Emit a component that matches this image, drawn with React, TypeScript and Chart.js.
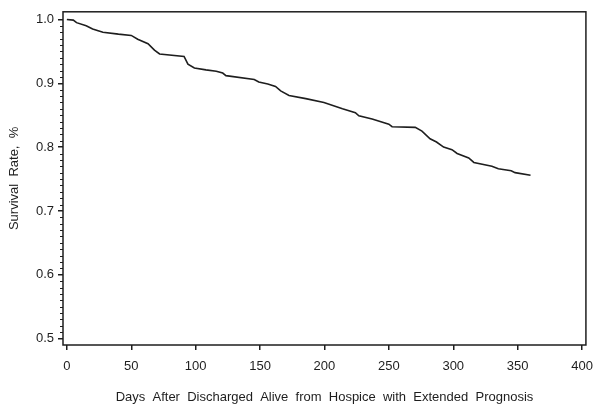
import React, { useEffect, useRef } from "react";
import { Chart, registerables } from "chart.js";

Chart.register(...registerables);

const days = [0, 5, 7.5, 15, 20, 28, 40, 50, 55, 63, 68, 72, 91, 94, 99, 108, 116, 121, 123.5, 145.5, 149, 156, 162, 166, 172.5, 185.5, 199.6, 214, 224, 226.7, 237, 250, 252.5, 270.5, 275.7, 282, 287, 292.5, 299, 303, 312, 316, 330, 335, 345, 348, 360];
const survival = [1.0, 0.999, 0.995, 0.99, 0.985, 0.98, 0.977, 0.975, 0.969, 0.962, 0.952, 0.946, 0.942, 0.93, 0.924, 0.921, 0.919, 0.916, 0.912, 0.906, 0.902, 0.899, 0.895, 0.888, 0.881, 0.876, 0.87, 0.86, 0.854, 0.849, 0.844, 0.836, 0.832, 0.831, 0.825, 0.813, 0.808, 0.8, 0.796, 0.79, 0.783, 0.776, 0.77, 0.766, 0.763, 0.76, 0.756];
const xTicks = [0, 50, 100, 150, 200, 250, 300, 350, 400];
const yTicks = [0.5, 0.6, 0.7, 0.8, 0.9, 1.0];
const yMinorTicks = Array.from({ length: 50 }, (_, i) => Math.round((0.5 + i * 0.01) * 100) / 100).filter(
  (v) => Math.abs(v * 10 - Math.round(v * 10)) > 1e-6
);

const FONT = "'Liberation Sans', Arial, Helvetica, sans-serif";
const INK = "#1e1e1e";

const frameAndMinor = {
  id: "frameAndMinor",
  afterDraw(chart: any) {
    const { ctx, chartArea } = chart;
    const y = chart.scales.y;
    ctx.save();
    ctx.strokeStyle = INK;
    ctx.lineWidth = 1.5;
    ctx.strokeRect(chartArea.left, chartArea.top, chartArea.right - chartArea.left, chartArea.bottom - chartArea.top);
    ctx.lineWidth = 1;
    ctx.beginPath();
    for (const v of yMinorTicks) {
      const py = Math.round(y.getPixelForValue(v)) + 0.5;
      ctx.moveTo(chartArea.left - 3, py);
      ctx.lineTo(chartArea.left, py);
    }
    ctx.stroke();
    ctx.restore();
  },
};

export default function App() {
  const ref = useRef<HTMLCanvasElement | null>(null);
  useEffect(() => {
    if (!ref.current) return;
    const chart = new Chart(ref.current, {
      type: "line",
      data: {
        datasets: [
          {
            data: days.map((d, i) => ({ x: d, y: survival[i] })),
            borderColor: INK,
            borderWidth: 1.6,
            pointRadius: 0,
            tension: 0,
            fill: false,
          },
        ],
      },
      options: {
        animation: false,
        responsive: false,
        devicePixelRatio: 1,
        layout: { padding: { top: 7, right: 14, left: 0, bottom: 0 } },
        plugins: { legend: { display: false }, tooltip: { enabled: false } },
        scales: {
          x: {
            type: "linear",
            min: -3,
            max: 403,
            afterBuildTicks: (s: any) => {
              s.ticks = xTicks.map((v) => ({ value: v }));
            },
            afterFit: (s: any) => {
              s.height = 66;
            },
            ticks: { color: INK, font: { family: FONT, size: 13 }, padding: 9, maxRotation: 0, callback: (v: any) => String(v) },
            grid: { display: true, drawOnChartArea: false, drawTicks: true, tickLength: 5, color: INK, lineWidth: 1.5 },
            border: { display: false },
            title: {
              display: true,
              text: "Days  After  Discharged  Alive  from  Hospice  with  Extended  Prognosis",
              color: INK,
              font: { family: FONT, size: 13 },
              padding: { top: 0, bottom: 6 },
            },
          },
          y: {
            type: "linear",
            min: 0.49,
            max: 1.012,
            afterBuildTicks: (s: any) => {
              s.ticks = yTicks.map((v) => ({ value: v }));
            },
            afterFit: (s: any) => {
              s.width = 63;
            },
            ticks: { color: INK, font: { family: FONT, size: 13 }, padding: 4, callback: (v: any) => Number(v).toFixed(1) },
            grid: { display: true, drawOnChartArea: false, drawTicks: true, tickLength: 5, color: INK, lineWidth: 1.5 },
            border: { display: false },
            title: {
              display: true,
              text: "Survival  Rate,  %",
              color: INK,
              font: { family: FONT, size: 13 },
              padding: { top: 7, bottom: 0 },
            },
          },
        },
      },
      plugins: [frameAndMinor],
    });
    return () => chart.destroy();
  }, []);
  return (
    <div style={{ position: "absolute", left: 0, top: 0, width: 602, height: 411, background: "#fff" }}>
      <canvas ref={ref} width={602} height={411} />
    </div>
  );
}
